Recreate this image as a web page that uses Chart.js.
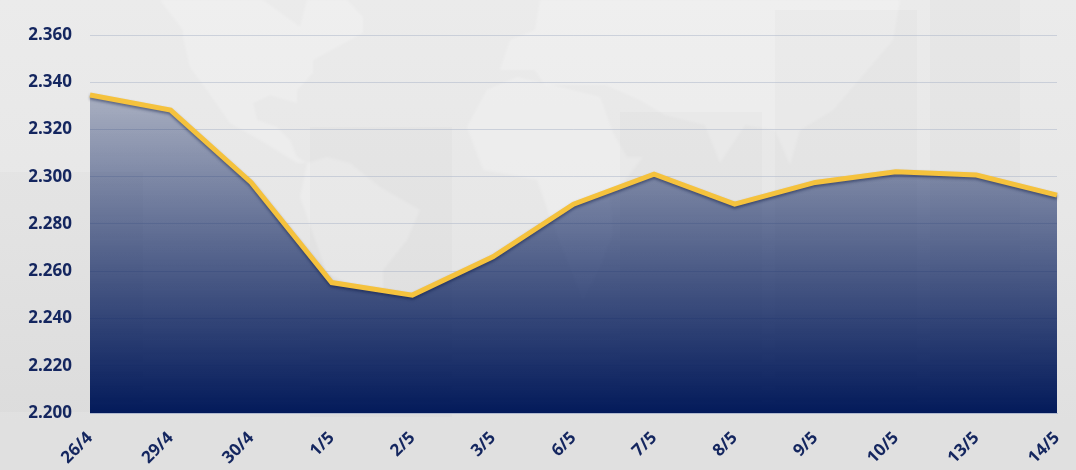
<!DOCTYPE html>
<html>
<head>
<meta charset="utf-8">
<style>
  html, body { margin: 0; padding: 0; width: 1076px; height: 470px; overflow: hidden; }
  body { background: linear-gradient(180deg, #ebebeb 0%, #e7e7e7 45%, #e0e0e0 90%); }
  #bg { position: absolute; left: 0; top: 0; }
  #wrap { position: absolute; left: 0; top: 0; width: 1076px; height: 470px; }
</style>
<script src="https://cdn.jsdelivr.net/npm/chart.js@4"></script>
</head>
<body>
<!-- faint world map behind the chart -->
<svg id="bg" width="1076" height="470">
  <defs><filter id="soft"><feGaussianBlur stdDeviation="1"/></filter></defs>
  <g fill="#fff" fill-opacity="0.2" filter="url(#soft)">
    <polygon points="183,37 190,67 207,90 230,123 260,140 297,163 307,163 297,157 290,140 277,127 257,120 253,103 270,95 297,103 297,90 313,73 313,60 337,47 363,33 363,17 347,0 307,0 300,27 263,0 160,0 183,30"/>
    <polygon points="307,163 327,157 350,163 380,187 420,210 407,240 383,270 383,300 327,273 300,197"/>
    <polygon points="467,127 487,90 517,77 543,83 600,97 613,133 627,157 643,157 610,200 613,233 600,267 583,300 550,217 537,180 483,170"/>
    <polygon points="540,0 900,0 893,40 887,47 833,110 800,130 790,165 775,130 745,125 720,163 705,125 665,115 640,100 606,85 545,85 535,70 500,70 510,40 535,30"/>
  </g>
  <g fill="#000" fill-opacity="0.014">
    <rect x="310" y="127" width="142" height="290"/>
    <rect x="620" y="112" width="142" height="300"/>
    <rect x="775" y="10" width="142" height="400"/>
    <rect x="930" y="0" width="90" height="400"/>
    <rect x="0" y="172" width="143" height="240"/>
  </g>
</svg>
<div id="wrap"><canvas id="priceChart" width="1076" height="470"></canvas></div>
<script>
const labels = ['26/4','29/4','30/4','1/5','2/5','3/5','6/5','7/5','8/5','9/5','10/5','13/5','14/5'];
const prices = [2.3346, 2.3282, 2.2976, 2.2552, 2.2499, 2.2661, 2.2884, 2.3011, 2.2884, 2.2976, 2.3021, 2.3007, 2.2922];

const navy = '#14265f';

// soft shadow under the yellow line
const lineShadow = {
    id: 'lineShadow',
    beforeDatasetDraw(chart) {
        const c = chart.ctx;
        c.save();
        c.shadowColor = 'rgba(0,15,60,0.45)';
        c.shadowBlur = 3;
        c.shadowOffsetY = 2;
    },
    afterDatasetDraw(chart) {
        chart.ctx.restore();
    }
};

const ctx = document.getElementById('priceChart').getContext('2d');

new Chart(ctx, {
    type: 'line',
    data: {
        labels,
        datasets: [{
            data: prices,
            borderColor: '#f5c23d',
            borderWidth: 5,
            borderJoinStyle: 'miter',
            pointRadius: 0,
            tension: 0,
            fill: 'origin',
            backgroundColor: (c) => {
                const area = c.chart.chartArea;
                if (!area) return 'rgba(3,26,90,0.6)';
                const g = c.chart.ctx.createLinearGradient(0, 92, 0, area.bottom);
                g.addColorStop(0, 'rgba(3,26,90,0.27)');
                g.addColorStop(1, 'rgba(3,26,90,1)');
                return g;
            }
        }]
    },
    options: {
        responsive: false,
        animation: false,
        layout: { padding: { top: 35, right: 19, left: 0, bottom: 0 } },
        plugins: { legend: { display: false }, tooltip: { enabled: false } },
        scales: {
            x: {
                offset: false,
                // rotated last label must not shrink the plot
                afterFit: (s) => { s.height = 57; s.paddingLeft = 0; s.paddingRight = 0; },
                grid: { display: false, drawTicks: false },
                border: { display: true, color: 'rgba(170,180,205,0.8)' },
                ticks: {
                    color: navy,
                    font: { family: 'Open Sans', weight: 'bold', size: 17 },
                    minRotation: 45,
                    maxRotation: 45,
                    autoSkip: false,
                    padding: 15
                }
            },
            y: {
                min: 2.2,
                max: 2.36,
                afterFit: (s) => { s.width = 90; },
                grid: { color: 'rgba(170,180,200,0.5)', drawTicks: false },
                border: { display: false },
                ticks: {
                    stepSize: 0.02,
                    color: navy,
                    font: { family: 'Open Sans', weight: 'bold', size: 17 },
                    padding: 18,
                    callback: (v) => v.toFixed(3)
                }
            }
        }
    },
    plugins: [lineShadow]
});
</script>
</body>
</html>
